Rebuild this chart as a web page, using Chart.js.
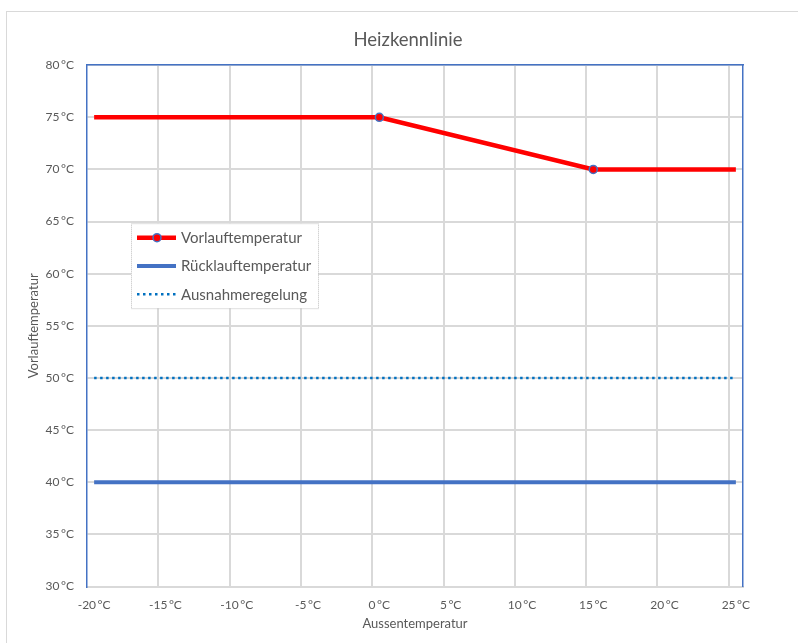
<!DOCTYPE html>
<html>
<head>
<meta charset="utf-8">
<script src="https://cdn.jsdelivr.net/npm/chart.js@4.4.1/dist/chart.umd.min.js"></script>
<style>
  html, body { margin: 0; padding: 0; background: #fff; overflow: hidden; }
  #frame {
    position: absolute; left: 6px; top: 11px;
    width: 802px; height: 640px;
    border: 1px solid #d9d9d9;
    background: #fff;
  }
  #chart { display: block; }
</style>
</head>
<body>
<div id="frame"><canvas id="chart" width="802" height="631"></canvas></div>
<script>
// Aussentemperatur categories (°C), one per degree
const xCategories = [-20, -19, -18, -17, -16, -15, -14, -13, -12, -11, -10, -9, -8, -7, -6, -5, -4, -3, -2, -1,
    0, 1, 2, 3, 4, 5, 6, 7, 8, 9, 10, 11, 12, 13, 14, 15, 16, 17, 18, 19, 20, 21, 22, 23, 24, 25];

// Vorlauftemperatur (Heizkennlinie)
const vorlaufX = [-20, 0, 15, 25];
const vorlaufY = [75, 75, 70, 70];
const vorlaufMarkers = [false, true, true, false];

// Rücklauftemperatur
const ruecklaufX = [-20, 25];
const ruecklaufY = [40, 40];

// Ausnahmeregelung
const ausnahmeX = [-20, 25];
const ausnahmeY = [50, 50];

const yMin = 30;
const yMax = 80;
const yStep = 5;
const xLabelStep = 5;

const textColor = '#595959';
const fontFamily = "Lato, 'Noto Sans', sans-serif";
const frameBlue = '#4472c4';

const toPoints = (xs, ys) => xs.map((x, i) => ({ x: x, y: ys[i] }));

// legend drawn inside the plot area, like the Excel original
const insideLegend = {
    id: 'insideLegend',
    afterDatasetsDraw(chart) {
        const { ctx, chartArea } = chart;
        const bx = chartArea.left + 44;
        const by = chartArea.top + 158;
        const bw = 187;
        const bh = 85;

        ctx.save();
        ctx.fillStyle = '#ffffff';
        ctx.fillRect(bx, by, bw, bh);
        ctx.strokeStyle = '#bfbfbf';
        ctx.lineWidth = 1;
        ctx.setLineDash([1, 1]);
        ctx.strokeRect(bx + 0.5, by + 0.5, bw, bh);

        ctx.font = '15px ' + fontFamily;
        ctx.textBaseline = 'middle';

        chart.data.datasets.forEach((ds, i) => {
            const rowY = by + 14.5 + i * 28.3;
            ctx.beginPath();
            ctx.setLineDash(ds.borderDash || []);
            ctx.strokeStyle = ds.borderColor;
            ctx.lineWidth = ds.borderWidth;
            ctx.lineCap = 'butt';
            ctx.moveTo(bx + 6, rowY);
            ctx.lineTo(bx + 45, rowY);
            ctx.stroke();
            ctx.setLineDash([]);
            if (i === 0) {
                ctx.beginPath();
                ctx.arc(bx + 26, rowY, 4, 0, Math.PI * 2);
                ctx.fillStyle = ds.pointBackgroundColor;
                ctx.fill();
                ctx.lineWidth = 1.5;
                ctx.strokeStyle = ds.pointBorderColor;
                ctx.stroke();
            }
            ctx.fillStyle = textColor;
            ctx.fillText(ds.label, bx + 50, rowY + 0.5);
        });
        ctx.restore();
    }
};

new Chart(document.getElementById('chart'), {
    type: 'line',
    data: {
        labels: xCategories,
        datasets: [
            {
                label: 'Vorlauftemperatur',
                data: toPoints(vorlaufX, vorlaufY),
                borderColor: '#ff0000',
                borderWidth: 4.5,
                pointRadius: (c) => vorlaufMarkers[c.dataIndex] ? 4 : 0,
                pointBackgroundColor: '#ff0000',
                pointBorderColor: frameBlue,
                pointBorderWidth: 1.5,
                tension: 0
            },
            {
                label: 'Rücklauftemperatur',
                data: toPoints(ruecklaufX, ruecklaufY),
                borderColor: frameBlue,
                borderWidth: 4,
                pointRadius: 0,
                tension: 0
            },
            {
                label: 'Ausnahmeregelung',
                data: toPoints(ausnahmeX, ausnahmeY),
                borderColor: '#0070c0',
                borderWidth: 2.5,
                borderDash: [2.5, 3.5],
                pointRadius: 0,
                tension: 0
            }
        ]
    },
    options: {
        responsive: false,
        animation: false,
        layout: {
            padding: { left: 0, right: 0, top: 2, bottom: 0 }
        },
        plugins: {
            legend: { display: false },
            tooltip: { enabled: false },
            title: {
                display: true,
                text: 'Heizkennlinie',
                color: textColor,
                font: { size: 18.5, family: fontFamily, weight: 'normal' },
                padding: { top: 15, bottom: 14 }
            }
        },
        scales: {
            x: {
                type: 'category',
                offset: true,
                afterFit: (scale) => { scale.height = 56.5; },
                grid: {
                    offset: true,
                    drawTicks: false,
                    lineWidth: 2,
                    color: (c) => (c.index !== undefined && c.index > 0 && c.index % xLabelStep === 0) ? '#d9d9d9' : 'rgba(0,0,0,0)'
                },
                border: { display: true, color: '#d9d9d9', width: 2 },
                ticks: {
                    autoSkip: false,
                    maxRotation: 0,
                    minRotation: 0,
                    padding: 11,
                    color: textColor,
                    font: { size: 12, family: fontFamily },
                    callback: function (value, index) {
                        return index % xLabelStep === 0 ? this.getLabelForValue(value) + '\u2009°C' : '';
                    }
                },
                title: {
                    display: true,
                    text: 'Aussentemperatur',
                    color: textColor,
                    font: { size: 13, family: fontFamily },
                    padding: { top: 0, bottom: 11 }
                }
            },
            // empty top axis: only its line, the blue top edge of the plot frame
            xTop: {
                type: 'category',
                position: 'top',
                offset: true,
                afterFit: (scale) => { scale.height = 0; },
                grid: { display: false, drawOnChartArea: false },
                border: { display: true, color: frameBlue, width: 1.5 },
                ticks: { display: false }
            },
            y: {
                min: yMin,
                max: yMax,
                afterFit: (scale) => { scale.width = 80; },
                grid: {
                    drawTicks: false,
                    lineWidth: 2,
                    color: '#d9d9d9'
                },
                border: { display: true, color: frameBlue, width: 1.5 },
                ticks: {
                    stepSize: yStep,
                    padding: 13,
                    color: textColor,
                    font: { size: 12, family: fontFamily },
                    callback: (v) => v + '\u2009°C'
                },
                title: {
                    display: true,
                    text: 'Vorlauftemperatur',
                    color: textColor,
                    font: { size: 13, family: fontFamily },
                    padding: { top: 19, bottom: 0 }
                }
            },
            // empty right-hand axis: keeps the plot narrower than the title box
            yRight: {
                position: 'right',
                min: yMin,
                max: yMax,
                afterFit: (scale) => { scale.width = 66; },
                grid: { display: false, drawOnChartArea: false },
                border: { display: true, color: frameBlue, width: 1.5 },
                ticks: { display: false }
            }
        }
    },
    plugins: [insideLegend]
});
</script>
</body>
</html>
